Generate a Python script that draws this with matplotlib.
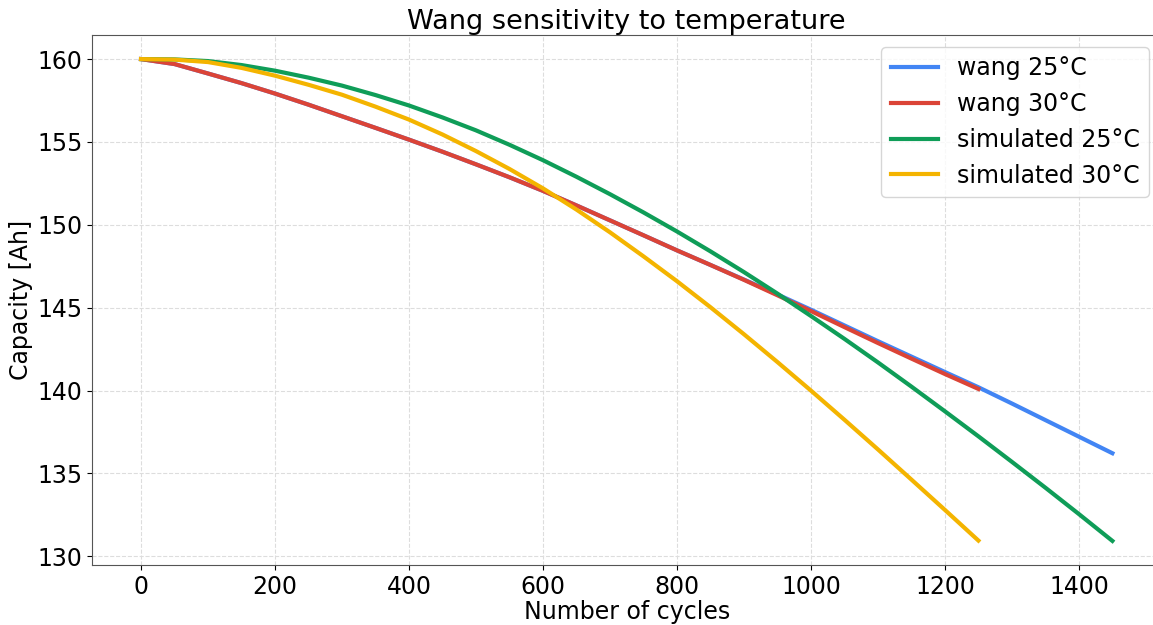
import matplotlib.pyplot as plt

cycles_long = [0, 50, 100, 150, 200, 250, 300, 350, 400, 450, 500, 550, 600, 650, 700,
               750, 800, 850, 900, 950, 1000, 1050, 1100, 1150, 1200, 1250, 1300, 1350,
               1400, 1450]
cycles_short = cycles_long[:26]

wang_25 = [160.0, 159.7, 159.13, 158.55, 157.92, 157.25, 156.55, 155.85, 155.14, 154.41,
           153.65, 152.87, 152.05, 151.17, 150.27, 149.37, 148.46, 147.58, 146.7, 145.8,
           144.88, 143.93, 142.98, 142.05, 141.12, 140.2, 139.22, 138.22, 137.22, 136.22]
wang_30 = [160.0, 159.7, 159.13, 158.55, 157.92, 157.25, 156.55, 155.85, 155.14, 154.41,
           153.65, 152.87, 152.05, 151.17, 150.27, 149.37, 148.46, 147.58, 146.68, 145.75,
           144.8, 143.83, 142.87, 141.93, 141.0, 140.1]
sim_25 = [160.0, 159.98, 159.88, 159.64, 159.3, 158.88, 158.4, 157.83, 157.2, 156.48,
          155.7, 154.83, 153.9, 152.9, 151.85, 150.75, 149.6, 148.4, 147.15, 145.85,
          144.5, 143.12, 141.7, 140.24, 138.75, 137.24, 135.7, 134.14, 132.55, 130.93]
sim_30 = [160.0, 159.97, 159.82, 159.47, 159.0, 158.45, 157.85, 157.13, 156.35, 155.45,
          154.45, 153.37, 152.2, 150.92, 149.55, 148.1, 146.6, 145.03, 143.4, 141.72,
          140.0, 138.24, 136.45, 134.63, 132.8, 130.95]

fig = plt.figure(figsize=(11.53, 6.25), dpi=100)
ax = fig.add_axes([0.0802, 0.096, 0.9267, 0.848])

ax.plot(cycles_long, wang_25, color="#4285F4", lw=3, label="wang 25°C")
ax.plot(cycles_short, wang_30, color="#DB4437", lw=3, label="wang 30°C")
ax.plot(cycles_long, sim_25, color="#0F9D58", lw=3, label="simulated 25°C")
ax.plot(cycles_short, sim_30, color="#F4B400", lw=3, label="simulated 30°C")

ax.set_title("Wang sensitivity to temperature", fontsize=19.5, pad=4)
ax.set_xlabel("Number of cycles", fontsize=17, labelpad=1)
ax.set_ylabel("Capacity [Ah]", fontsize=17, labelpad=3)
ax.tick_params(labelsize=17)

ax.grid(True, linestyle="--", color="#dddddd", linewidth=0.8)
for s in ax.spines.values():
    s.set_color("#555555")

ax.legend(loc="upper right", fontsize=17)

plt.savefig("out.png", dpi=100)
